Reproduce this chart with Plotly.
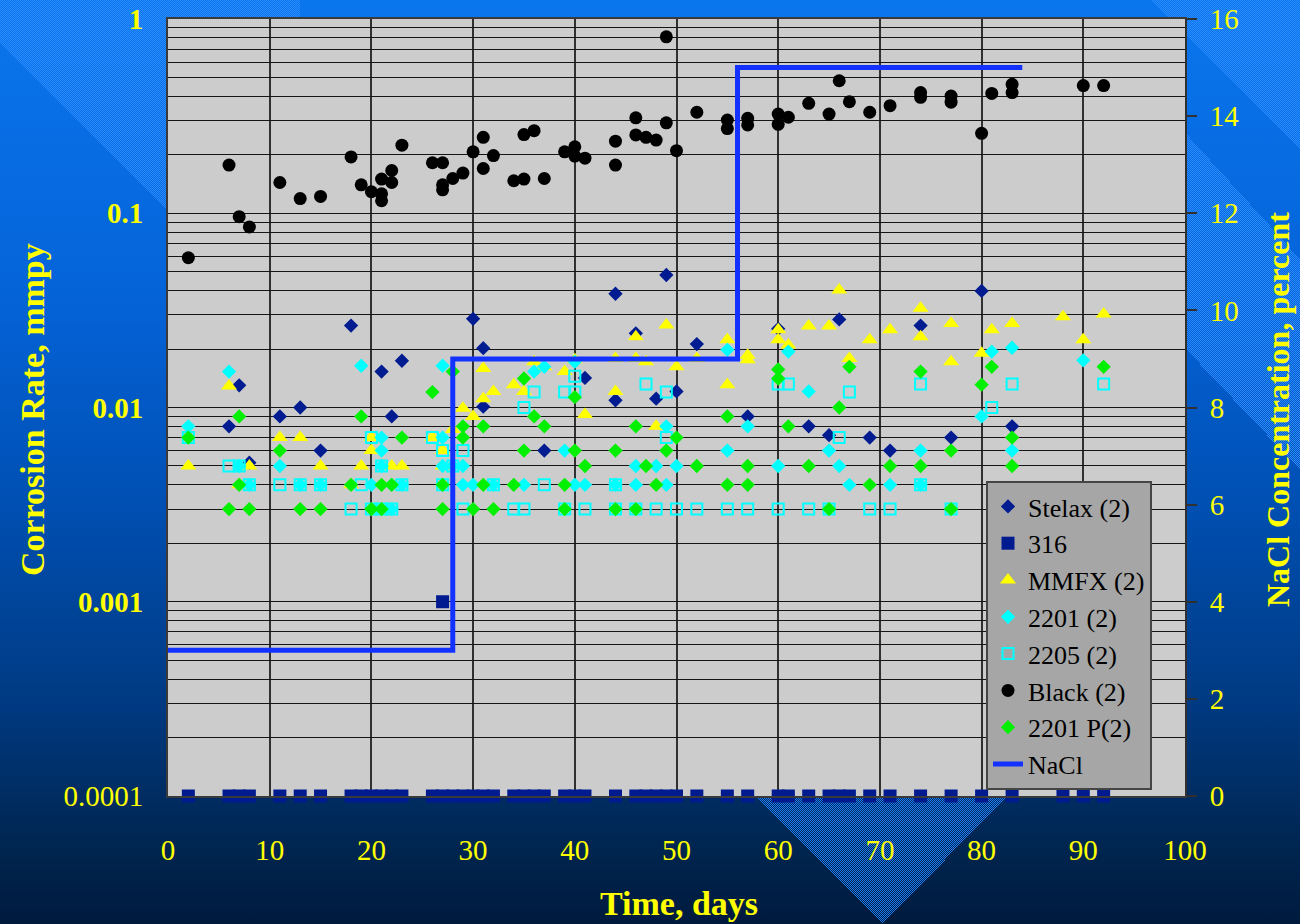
import base64
import plotly.graph_objects as go

# ---------------- data ----------------
stelax_days = [6, 7, 8, 11, 13, 15, 18, 21, 22, 23, 30, 31, 31, 37, 41, 44, 44, 46, 48, 49,
               50, 52, 57, 60, 63, 65, 66, 69, 71, 74, 77, 80, 83]
stelax_vals = [0.008, 0.013, 0.0052, 0.009, 0.010, 0.006, 0.0264, 0.0153, 0.009, 0.0174,
               0.0286, 0.0202, 0.0101, 0.006, 0.0142, 0.0385, 0.0109, 0.0241, 0.0111, 0.0481,
               0.0121, 0.0212, 0.009, 0.0254, 0.008, 0.0072, 0.0284, 0.007, 0.006, 0.0264,
               0.007, 0.0398, 0.008]

s316_days = [2, 6, 7, 8, 11, 13, 15, 18, 19, 20, 21, 22, 23, 26, 27, 27, 28, 29, 30, 31, 32,
             34, 35, 36, 37, 39, 40, 41, 44, 46, 47, 48, 49, 50, 52, 55, 57, 60, 61, 63,
             65, 66, 67, 69, 71, 74, 77, 80, 83, 88, 90, 92]
s316_vals = [0.0001, 0.0001, 0.0001, 0.0001, 0.0001, 0.0001, 0.0001, 0.0001, 0.0001, 0.0001,
             0.0001, 0.0001, 0.0001, 0.0001, 0.0001, 0.001, 0.0001, 0.0001, 0.0001, 0.0001,
             0.0001, 0.0001, 0.0001, 0.0001, 0.0001, 0.0001, 0.0001, 0.0001, 0.0001, 0.0001,
             0.0001, 0.0001, 0.0001, 0.0001, 0.0001, 0.0001, 0.0001, 0.0001, 0.0001, 0.0001,
             0.0001, 0.0001, 0.0001, 0.0001, 0.0001, 0.0001, 0.0001, 0.0001, 0.0001, 0.0001,
             0.0001, 0.0001]

mmfx_days = [2, 6, 7, 8, 11, 13, 15, 18, 19, 20, 20, 22, 23, 26, 27, 27, 28, 29, 30, 31,
             31, 32, 34, 35, 36, 37, 39, 40, 41, 44, 44, 46, 46, 47, 48, 49, 50, 52, 55, 55,
             57, 57, 60, 60, 61, 63, 65, 66, 67, 69, 71, 74, 74, 77, 77, 80, 81, 83, 88, 90,
             92]
mmfx_vals = [0.005, 0.0129, 0.004, 0.005, 0.007, 0.007, 0.005, 0.004, 0.005, 0.007,
             0.006, 0.005, 0.005, 0.007, 0.006, 0.005, 0.0077, 0.0099, 0.009, 0.0159,
             0.0111, 0.0121, 0.0131, 0.0121, 0.0172, 0.0162, 0.0153, 0.0176, 0.0092, 0.0121,
             0.0179, 0.0231, 0.0179, 0.0172, 0.008, 0.0266, 0.0162, 0.0179, 0.0223, 0.0131,
             0.0186, 0.0176, 0.0251, 0.0223, 0.021, 0.0263, 0.0263, 0.0403, 0.0179, 0.0223,
             0.0251, 0.0324, 0.0231, 0.0271, 0.0172, 0.019, 0.0251, 0.0271, 0.0293, 0.0223,
             0.0303]

d2201_days = [2, 6, 7, 8, 11, 13, 15, 19, 20, 21, 21, 21, 22, 22, 23, 27, 27, 27, 28, 29,
              29, 30, 32, 35, 36, 37, 39, 40, 40, 41, 44, 46, 46, 48, 49, 49, 50, 55, 55, 57,
              60, 61, 63, 65, 66, 67, 71, 74, 74, 80, 81, 83, 83, 90]
d2201_vals = [0.008, 0.0153, 0.005, 0.004, 0.005, 0.004, 0.004, 0.0164, 0.004, 0.007,
              0.006, 0.005, 0.004, 0.003, 0.004, 0.0164, 0.007, 0.005, 0.005, 0.005,
              0.004, 0.004, 0.004, 0.004, 0.0153, 0.0162, 0.006, 0.0172, 0.004, 0.004,
              0.004, 0.005, 0.004, 0.005, 0.008, 0.004, 0.005, 0.0198, 0.006, 0.008,
              0.005, 0.0194, 0.0121, 0.006, 0.005, 0.004, 0.004, 0.006, 0.004, 0.009,
              0.0194, 0.0203, 0.006, 0.0175]

d2205_days = [2, 6, 7, 8, 11, 13, 15, 18, 19, 20, 20, 21, 21, 22, 23, 26, 27, 27, 28, 29,
              29, 32, 34, 35, 35, 36, 37, 39, 39, 40, 40, 41, 44, 44, 46, 47, 48, 49, 49, 50,
              52, 55, 57, 60, 60, 61, 63, 65, 66, 67, 69, 71, 74, 74, 77, 81, 83, 92]
d2205_vals = [0.007, 0.005, 0.005, 0.004, 0.004, 0.004, 0.004, 0.003, 0.004, 0.007,
              0.003, 0.005, 0.003, 0.003, 0.004, 0.007, 0.006, 0.004, 0.005, 0.006,
              0.003, 0.004, 0.003, 0.003, 0.010, 0.012, 0.004, 0.012, 0.003, 0.0145,
              0.012, 0.003, 0.004, 0.003, 0.003, 0.0132, 0.003, 0.012, 0.007, 0.003,
              0.003, 0.003, 0.003, 0.003, 0.0132, 0.0132, 0.003, 0.003, 0.007, 0.012,
              0.003, 0.003, 0.0132, 0.004, 0.003, 0.010, 0.0132, 0.0132]

black_days = [2, 6, 7, 8, 11, 13, 15, 18, 19, 20, 21, 21, 21, 22, 22, 23, 26, 27, 27, 27,
              28, 29, 30, 31, 31, 32, 34, 35, 35, 36, 37, 39, 40, 40, 41, 44, 44, 46, 46, 47,
              48, 49, 49, 50, 52, 55, 55, 57, 57, 60, 60, 61, 63, 65, 66, 67, 69, 71, 74, 74,
              77, 77, 80, 81, 83, 83, 90, 92]
black_vals = [0.059, 0.177, 0.096, 0.085, 0.144, 0.119, 0.122, 0.195, 0.140, 0.129,
              0.150, 0.126, 0.116, 0.166, 0.144, 0.224, 0.182, 0.182, 0.140, 0.132,
              0.151, 0.161, 0.207, 0.246, 0.170, 0.198, 0.147, 0.150, 0.254, 0.266,
              0.151, 0.207, 0.220, 0.197, 0.192, 0.235, 0.177, 0.31, 0.253, 0.246,
              0.238, 0.81, 0.292, 0.21, 0.331, 0.302, 0.273, 0.308, 0.285, 0.324,
              0.287, 0.312, 0.368, 0.324, 0.481, 0.375, 0.331, 0.358, 0.418, 0.395,
              0.401, 0.373, 0.258, 0.414, 0.461, 0.418, 0.454, 0.454]

p2201_days = [2, 6, 7, 7, 8, 11, 13, 15, 18, 19, 20, 21, 21, 22, 23, 26, 27, 27, 28, 29,
              29, 30, 31, 31, 32, 34, 35, 35, 36, 37, 39, 39, 40, 40, 41, 44, 44, 46, 46, 47,
              48, 49, 50, 52, 55, 55, 57, 57, 60, 60, 61, 63, 65, 66, 67, 69, 71, 74, 74, 77,
              77, 80, 81, 83, 83, 92]
p2201_vals = [0.007, 0.003, 0.009, 0.004, 0.003, 0.006, 0.003, 0.003, 0.004, 0.009,
              0.003, 0.003, 0.004, 0.004, 0.007, 0.012, 0.004, 0.003, 0.0153, 0.008,
              0.007, 0.003, 0.008, 0.004, 0.003, 0.004, 0.0141, 0.006, 0.009, 0.008,
              0.004, 0.003, 0.0113, 0.006, 0.005, 0.006, 0.003, 0.008, 0.003, 0.005,
              0.004, 0.006, 0.007, 0.005, 0.009, 0.004, 0.005, 0.004, 0.0157, 0.0141,
              0.008, 0.005, 0.003, 0.010, 0.0162, 0.004, 0.005, 0.0153, 0.005, 0.006,
              0.003, 0.0131, 0.0162, 0.007, 0.005, 0.0162]

nacl_days = [0, 28, 56, 84]
nacl_pct = [3, 9, 15, 15]

x_ticks = [0, 10, 20, 30, 40, 50, 60, 70, 80, 90, 100]
y_decades = [0.0001, 0.001, 0.01, 0.1, 1]
y_decade_labels = ["0.0001", "<b>0.001</b>", "<b>0.01</b>", "<b>0.1</b>", "<b>1</b>"]
y2_ticks = [0, 2, 4, 6, 8, 10, 12, 14, 16]

# ---------------- geometry ----------------
W, H = 1300, 924
L, R, T, B = 168, 115, 19, 128
PW, PH = W - L - R, H - T - B


def px_x(px):
    return (px - L) / PW


def px_y(py):
    return (H - B - py) / PH


FONT = "Liberation Serif"
YEL = "#ffff00"

# y grid: all 1..9 multiples per decade, labels only at decades
tickvals, ticktext = [], []
for d, lab in zip(y_decades[:-1], y_decade_labels[:-1]):
    for m in range(1, 10):
        tickvals.append(d * m)
        ticktext.append(lab if m == 1 else "")
tickvals.append(y_decades[-1])
ticktext.append(y_decade_labels[-1])

# ---------------- background svg (gradient, hatching, grey plot area) ----------------
svg = f"""<svg xmlns="http://www.w3.org/2000/svg" width="{W}" height="{H}" viewBox="0 0 {W} {H}" preserveAspectRatio="none" shape-rendering="crispEdges">
<defs>
<linearGradient id="g" x1="0" y1="0" x2="0" y2="1">
<stop offset="0" stop-color="#0a76ee"/>
<stop offset="0.32" stop-color="#0563d8"/>
<stop offset="0.54" stop-color="#0050b4"/>
<stop offset="0.76" stop-color="#003a82"/>
<stop offset="0.92" stop-color="#00254f"/>
<stop offset="1" stop-color="#001a3e"/>
</linearGradient>
<pattern id="p" width="2" height="2" patternUnits="userSpaceOnUse">
<rect x="0" y="0" width="1" height="1" fill="#2a8cff"/>
<rect x="1" y="1" width="1" height="1" fill="#2a8cff"/>
</pattern>
<pattern id="q" width="2" height="2" patternUnits="userSpaceOnUse">
<rect x="0" y="0" width="1" height="1" fill="#1c7cf6"/>
<rect x="1" y="1" width="1" height="1" fill="#1c7cf6"/>
</pattern>
</defs>
<rect x="0" y="0" width="{W}" height="{H}" fill="url(#g)"/>
<polygon points="0,0 300,0 300,344 0,44" fill="url(#p)"/>
<polygon points="1150,0 1300,0 1300,150" fill="url(#p)"/>
<polygon points="1150,94 1300,259 1300,470 1150,311" fill="url(#p)"/>
<polygon points="755,797 1006,797 883,924" fill="url(#q)"/>
<rect x="{L}" y="{T}" width="{PW}" height="{PH}" fill="#cccccc"/>
</svg>"""
bg_uri = "data:image/svg+xml;base64," + base64.b64encode(svg.encode()).decode()

# ---------------- traces ----------------
fig = go.Figure()


def add(name, xs, ys, symbol, color, size, line=None):
    mk = dict(symbol=symbol, color=color, size=size, line=dict(width=0))
    if line is not None:
        mk = dict(symbol=symbol, color=color, size=size, line=line)
    fig.add_trace(go.Scatter(x=xs, y=ys, mode="markers", name=name, marker=mk,
                             cliponaxis=False, legendgroup=name, yaxis="y"))


add("Stelax (2)", stelax_days, stelax_vals, "diamond", "#001c90", 11)
add("316", s316_days, s316_vals, "square", "#001a90", 13)
add("MMFX (2)", mmfx_days, mmfx_vals, "triangle-up", "#ffff00", 14)
add("2201 (2)", d2201_days, d2201_vals, "diamond", "#00ffff", 11)
add("2205 (2)", d2205_days, d2205_vals, "square-open", "#00ffff", 11,
    line=dict(width=2, color="#00ffff"))
add("Black (2)", black_days, black_vals, "circle", "#000000", 13)
add("2201 P(2)", p2201_days, p2201_vals, "diamond", "#00f000", 11)

fig.add_trace(go.Scatter(x=nacl_days, y=nacl_pct, mode="lines", name="NaCl",
                         line=dict(color="#1432ff", width=5, shape="hv"),
                         yaxis="y2", legendgroup="NaCl"))

# ---------------- layout ----------------
fig.update_layout(
    width=W, height=H,
    margin=dict(l=L, r=R, t=T, b=B, pad=0, autoexpand=False),
    paper_bgcolor="#003070",
    plot_bgcolor="rgba(0,0,0,0)",
    showlegend=True,
    images=[dict(source=bg_uri, xref="paper", yref="paper",
                 x=px_x(0), y=px_y(0), sizex=W / PW, sizey=H / PH,
                 xanchor="left", yanchor="top", sizing="stretch", layer="below")],
    xaxis=dict(
        range=[0, 100], tickvals=x_ticks, ticktext=[str(v) for v in x_ticks],
        showgrid=True, gridcolor="#303030", gridwidth=1.5, zeroline=False,
        showline=True, linecolor="#3a3a3a", linewidth=2, mirror=True,
        ticks="", ticklabelstandoff=27, automargin=False,
        tickfont=dict(family=FONT, size=29, color=YEL),
    ),
    yaxis=dict(
        type="log", range=[-4, 0], tickvals=tickvals, ticktext=ticktext,
        showgrid=True, gridcolor="#151515", gridwidth=1, zeroline=False,
        showline=True, linecolor="#3a3a3a", linewidth=2, mirror=True,
        ticks="", ticklabelstandoff=17, automargin=False,
        tickfont=dict(family=FONT, size=29, color=YEL),
    ),
    yaxis2=dict(
        overlaying="y", side="right", range=[0, 16], tickvals=y2_ticks,
        showgrid=False, zeroline=False, showline=True, linecolor="#303030",
        linewidth=2, ticks="outside", ticklen=10, tickcolor="#303030", tickwidth=1.5,
        ticklabelstandoff=7, automargin=False,
        tickfont=dict(family=FONT, size=29, color=YEL),
    ),
    legend=dict(
        x=px_x(1152), y=px_y(790), xanchor="right", yanchor="bottom",
        bgcolor="#a6a6a6", bordercolor="#454545", borderwidth=2,
        font=dict(family=FONT, size=26, color="#000000"),
        tracegroupgap=8, itemsizing="trace", traceorder="normal",
    ),
    annotations=[
        dict(text="<b>Corrosion Rate, mmpy</b>", xref="paper", yref="paper",
             x=px_x(32), y=px_y(410), xanchor="center", yanchor="middle",
             textangle=-90, showarrow=False,
             font=dict(family=FONT, size=34, color=YEL)),
        dict(text="<b>NaCl Concentration, percent</b>", xref="paper", yref="paper",
             x=px_x(1278), y=px_y(410), xanchor="center", yanchor="middle",
             textangle=-90, showarrow=False,
             font=dict(family=FONT, size=32, color=YEL)),
        dict(text="<b>Time, days</b>", xref="paper", yref="paper",
             x=px_x(679), y=px_y(903), xanchor="center", yanchor="middle",
             showarrow=False,
             font=dict(family=FONT, size=34, color=YEL)),
    ],
)

fig.write_html("out.html", config={"displayModeBar": False},
               post_script="document.body.style.margin='0';document.body.style.overflow='hidden';")
